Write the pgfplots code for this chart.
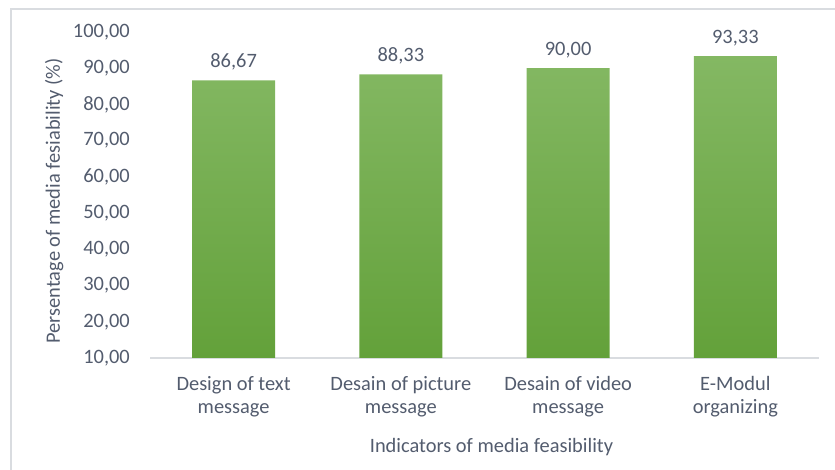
\documentclass[border=0pt]{standalone}
\usepackage{pgfplots}
\pgfplotsset{compat=1.18}
\usepackage{fontspec}
\setmainfont{Carlito}
\definecolor{txt}{RGB}{83,92,110}
\definecolor{linegray}{RGB}{217,220,224}
\definecolor{bartop}{RGB}{132,184,99}
\definecolor{barbot}{RGB}{99,161,58}
\begin{document}
\begin{tikzpicture}[x=1bp,y=1bp]
\useasboundingbox (0,0) rectangle (835,470);
\draw[linegray, line width=1.2bp] (11,-2) -- (11,461) -- (840,461);
\begin{axis}[
  at={(150bp,112bp)}, anchor=south west,
  scale only axis, width=669bp, height=326bp,
  xmin=-0.5, xmax=3.5, ymin=10, ymax=100,
  enlargelimits=false,
  ytick={10,20,...,100},
  xtick={0,1,2,3},
  xticklabels={{Design of text\\message},{Desain of picture\\message},{Desain of video\\message},{E-Modul\\organizing}},
  major tick length=0pt,
  axis lines*=left,
  x axis line style={-, draw=linegray, line width=1.2bp},
  y axis line style={draw=none},
  /pgf/number format/use comma,
  /pgf/number format/fixed,
  /pgf/number format/fixed zerofill,
  /pgf/number format/precision=2,
  /pgf/number format/assume math mode=true,
  font=\fontsize{20.5}{23}\selectfont,
  ticklabel style={font=\fontsize{20.5}{23}\selectfont, text=txt},
  yticklabel style={anchor=east, inner sep=0pt, xshift=-20bp},
  xticklabel style={align=center, anchor=north, inner sep=0pt, yshift=-18bp},
  xlabel={Indicators of media feasibility},
  ylabel={Persentage of media fesiability (\%)},
  xlabel style={at={([xshift=7bp,yshift=-95bp]axis description cs:0.5,0)}, anchor=base, text=txt, font=\fontsize{20.5}{23}\selectfont},
  ylabel style={at={([xshift=-90bp,yshift=-6bp]axis description cs:0,0.5)}, anchor=base, text=txt, font=\fontsize{20.5}{23}\selectfont},
  ybar, bar width=83bp,
  nodes near coords,
  nodes near coords style={text=txt, font=\fontsize{20.5}{23}\selectfont, yshift=7bp},
]
\addplot[draw=none, top color=bartop, bottom color=barbot] coordinates {(0,86.67) (1,88.33) (2,90.00) (3,93.33)};
\end{axis}
\end{tikzpicture}
\end{document}
